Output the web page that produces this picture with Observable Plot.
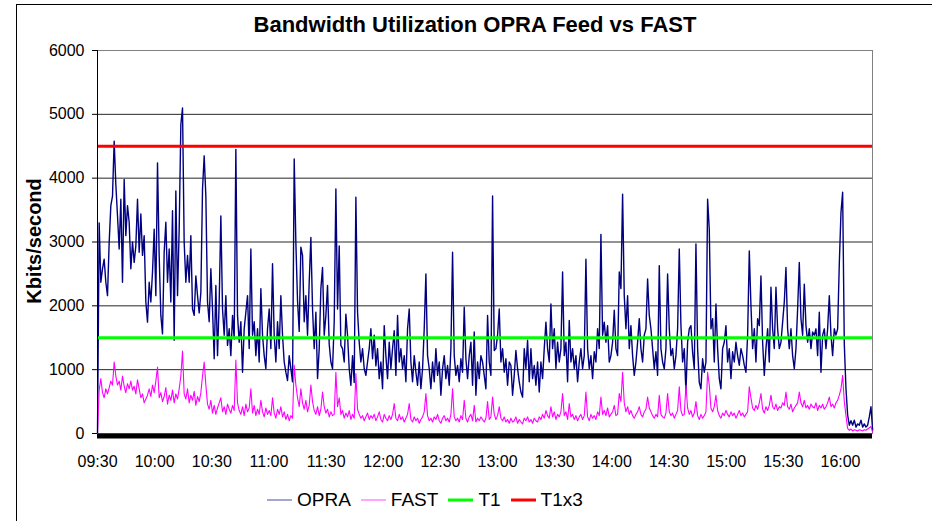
<!DOCTYPE html>
<html><head><meta charset="utf-8">
<script src="https://cdn.jsdelivr.net/npm/d3@7"></script>
<script src="https://cdn.jsdelivr.net/npm/@observablehq/plot@0.6"></script>
<style>
body{margin:0;background:#fff;font-family:"Liberation Sans",Arial,sans-serif;}
#wrap{position:relative;width:932px;height:521px;overflow:hidden;background:#fff;}
#frame{position:absolute;left:16px;top:4px;width:960px;height:560px;border-left:1px solid #000;border-top:1px solid #000;}
#chart{position:absolute;left:0;top:0;}
#title{position:absolute;left:0;width:950px;top:12px;text-align:center;font-weight:bold;font-size:22px;color:#000;}
#ylabel{position:absolute;left:34px;top:241px;transform:translate(-50%,-50%) rotate(-90deg);font-weight:bold;font-size:20px;white-space:nowrap;}
#legend{position:absolute;left:267px;top:489px;display:flex;align-items:center;font-size:19px;}
#legend .item{display:flex;align-items:center;margin-right:10px;}
#legend svg{margin-right:5px;}
</style>
</head><body>
<div id="wrap">
  <div id="frame"></div>
  <div id="chart"></div>
  <div id="title">Bandwidth Utilization OPRA Feed vs FAST</div>
  <div id="ylabel">Kbits/second</div>
  <div id="legend"></div>
</div>
<script>
// Sampling: first sample at 09:30, one sample every 0.875 minute
const startMinutes = 9 * 60 + 30;
const sampleMinutes = 0.875;

// OPRA feed, Kbits/second
const opraValues = [
  // 09:30 - 11:13
  0, 3300, 2370, 2580, 2730, 2370, 2160, 2990, 3570, 3720, 4580, 3900, 3410, 2890, 3670, 2370, 3980, 3100, 3570, 3310,
  2580, 3000, 2680, 2940, 3670, 2840, 3440, 2790, 3100, 2060, 1745, 2370, 2060, 2530, 3200, 2160, 4240, 2790, 1850, 1560,
  2840, 3310, 2370, 2890, 2060, 3490, 1460, 3800, 2160, 3200, 4840, 5100, 2990, 2370, 2790, 2370, 3100, 1950, 1850, 2470,
  2160, 1890, 2210, 3830, 4350, 3720, 2060, 1750, 2580, 1950, 1170, 2320, 1220, 2060, 3410, 1950, 1540, 2160, 1380, 1640,
  1220, 1850, 1480, 4450, 1850, 1430, 1750, 960, 1640, 1900, 2160, 1330, 2890, 1540, 1750, 1220, 1640, 1120, 2270, 1540,
  1220, 1015, 1640, 1950, 1330, 2660, 1540, 1120, 1750, 1330, 2160, 1540, 1120, 960, 830, 1220, 1015, 810, 4300,
  // 11:14 - 12:55
  2990, 2080, 1600, 2920, 2790, 1750, 2160, 1540, 2370, 3070, 1950, 1330, 1900, 860, 1330, 2270, 2600, 1540, 1850, 2320,
  1400, 1120, 1015, 1750, 3830, 1950, 2940, 1380, 1330, 1120, 1870, 1540, 1015, 755, 1220, 800, 3700, 1900, 1430, 1120,
  1330, 1015, 910, 1120, 1330, 1640, 1170, 1540, 1060, 1330, 860, 1120, 700, 1690, 1220, 860, 1430, 1015, 1330, 1610,
  910, 1850, 1120, 1330, 1015, 1220, 810, 1640, 1950, 1120, 810, 1220, 960, 755, 1120, 700, 1015, 1640, 2500, 1220,
  1015, 700, 1120, 810, 1330, 910, 1120, 600, 1015, 1220, 860, 1065, 755, 1330, 2840, 1220, 910, 1065, 810, 1170,
  960, 1980, 1170, 860, 1220, 1430, 755, 1590, 600, 1120, 860, 1220, 1120, 910, 700, 1850, 1120,
  // 12:56 - 14:38
  911, 3720, 1300, 1330, 1540, 1950, 1120, 1330, 960, 1170, 755, 1120, 1065, 600, 910, 1300, 1015, 810, 650, 570,
  1330, 1015, 1460, 810, 1330, 860, 1065, 755, 1120, 650, 1120, 860, 1330, 1745, 1330, 1120, 2030, 1330, 1640, 1020,
  1430, 1120, 1330, 2530, 1220, 1430, 810, 1770, 1120, 1330, 1015, 1220, 810, 1120, 1330, 1015, 1220, 2730, 1330, 1015,
  1220, 860, 1280, 1120, 1640, 1330, 3120, 1540, 1745, 1430, 1690, 1120, 1220, 1430, 1930, 1330, 1220, 2530, 2270, 3750,
  2160, 1640, 2160, 1330, 1690, 1220, 910, 1120, 1430, 1800, 1330, 1120, 1540, 1640, 2420, 1850, 1640, 1330, 1015, 1280,
  910, 2630, 1330, 1120, 1015, 1330, 2500, 1640, 1220, 1330, 1015, 1220, 1640, 2890, 1690, 1120, 1330,
  // 14:39 - 16:17
  650, 1430, 1640, 1690, 1270, 1015, 2970, 1330, 800, 700, 1170, 960, 1120, 3670, 3200, 1640, 1800, 1120, 2030, 1330,
  860, 700, 1330, 1430, 1690, 1120, 1330, 860, 1280, 1120, 1430, 1220, 1070, 1330, 1220, 1070, 960, 1540, 2860, 2000,
  1330, 1640, 1120, 1800, 1690, 2470, 1430, 910, 1330, 1640, 1120, 2290, 1640, 1330, 2290, 1640, 1330, 1430, 1745, 2060,
  2600, 1640, 1330, 1640, 1220, 1015, 1330, 1950, 2680, 1800, 1540, 2340, 1690, 1430, 1640, 1330, 1590, 1540, 1640, 1220,
  1900, 960, 1540, 1640, 1330, 1640, 2160, 1540, 1220, 1640, 1540, 1640, 2660, 3460, 3780, 1400, 700, 290, 130, 200,
  130, 210, 100, 150, 130, 210, 100, 150, 100, 130, 260, 420, 50
];

// FAST feed, Kbits/second
const fastValues = [
  // 09:30 - 11:13
  0, 680, 860, 640, 560, 700, 620, 720, 820, 760, 1120, 900, 760, 820, 680, 900, 740, 640, 780, 700,
  820, 680, 740, 620, 840, 700, 560, 620, 480, 540, 600, 700, 580, 760, 640, 820, 1040, 560, 640, 500,
  580, 720, 460, 600, 520, 680, 480, 620, 540, 700, 900, 1290, 620, 540, 700, 480, 600, 520, 660, 440,
  580, 500, 640, 900, 1120, 760, 460, 380, 520, 320, 440, 300, 400, 480, 560, 340, 420, 300, 460, 380,
  320, 440, 360, 1150, 480, 360, 300, 420, 280, 460, 340, 400, 700, 320, 440, 280, 380, 300, 520, 340,
  260, 400, 300, 360, 280, 560, 320, 240, 380, 300, 420, 260, 340, 220, 300, 200, 280, 240, 1070,
  // 11:14 - 12:55
  760, 560, 420, 700, 480, 380, 520, 340, 440, 760, 500, 360, 300, 420, 280, 380, 650, 420, 320, 380,
  260, 340, 280, 300, 960, 420, 560, 300, 360, 240, 320, 260, 360, 220, 300, 240, 940, 380, 300, 240,
  280, 200, 260, 320, 220, 280, 240, 300, 200, 260, 340, 220, 180, 300, 240, 200, 280, 220, 300, 470,
  240, 200, 300, 220, 260, 180, 240, 300, 470, 220, 180, 260, 200, 240, 160, 220, 260, 340, 625, 280,
  200, 240, 180, 260, 220, 300, 200, 160, 240, 280, 200, 240, 180, 300, 700, 260, 200, 240, 180, 280,
  220, 520, 240, 180, 260, 300, 200, 440, 180, 240, 200, 260, 220, 180, 240, 500, 220,
  // 12:56 - 14:38
  260, 570, 300, 220, 280, 420, 240, 200, 260, 180, 220, 160, 240, 180, 200, 260, 160, 220, 180, 150,
  240, 200, 260, 180, 220, 160, 240, 200, 180, 260, 220, 300, 240, 360, 280, 240, 420, 260, 340, 220,
  300, 260, 340, 625, 280, 340, 220, 470, 260, 300, 220, 280, 200, 260, 300, 220, 280, 650, 260, 200,
  300, 240, 280, 220, 340, 280, 570, 300, 360, 280, 400, 260, 300, 340, 440, 280, 300, 625, 500, 960,
  480, 340, 420, 300, 360, 280, 240, 300, 340, 420, 300, 260, 340, 380, 570, 400, 340, 280, 240, 300,
  260, 600, 300, 260, 240, 320, 625, 340, 280, 320, 240, 300, 360, 730, 360, 280, 300,
  // 14:39 - 16:17
  755, 400, 300, 360, 260, 320, 500, 280, 220, 300, 240, 280, 340, 960, 760, 400, 340, 420, 600, 360,
  280, 240, 320, 280, 360, 300, 260, 340, 280, 320, 240, 300, 360, 280, 320, 260, 300, 340, 730, 560,
  400, 360, 440, 380, 480, 625, 380, 320, 420, 360, 440, 600, 420, 380, 460, 360, 420, 400, 480, 440,
  650, 420, 380, 460, 340, 400, 440, 480, 650, 480, 420, 520, 400, 440, 380, 460, 420, 400, 480, 360,
  440, 400, 460, 380, 420, 480, 570, 420, 460, 400, 480, 520, 600, 700, 910, 500, 280, 80, 50, 70,
  40, 60, 50, 40, 60, 50, 40, 60, 50, 70, 90, 110, 20
];

// Reference lines
const thresholdNames = ["T1", "T1x3"];
const thresholdValues = [1500, 4500];

// Axis ticks
const yTicks = [0, 1000, 2000, 3000, 4000, 5000, 6000];
const xTickLabels = ["09:30","10:00","10:30","11:00","11:30","12:00","12:30","13:00","13:30","14:00","14:30","15:00","15:30","16:00"];

const toMin = s => { const [h, m] = s.split(":").map(Number); return h * 60 + m - startMinutes; };
const rows = opraValues.map((v, i) => ({t: i * sampleMinutes, opra: v, fast: fastValues[i]}));
const xTicks = xTickLabels.map(toMin);
const fmt = m => { const tot = startMinutes + Math.round(m); return String(Math.floor(tot / 60)).padStart(2, "0") + ":" + String(tot % 60).padStart(2, "0"); };

const colors = {OPRA: "#000080", FAST: "#ff00ff", T1: "#00ff00", T1x3: "#ff0000"};

const chart = Plot.plot({
  width: 932, height: 521,
  marginTop: 50, marginLeft: 97, marginRight: 60, marginBottom: 88,
  x: {domain: [0, 406.8]},
  y: {domain: [0, 6000]},
  style: {fontFamily: "'Liberation Sans', Arial, sans-serif", fontSize: "16px", background: "transparent", color: "#000"},
  marks: [
    Plot.gridY(yTicks.filter(d => d > 0 && d < 6000), {stroke: "#000", strokeOpacity: 0.85}),
    Plot.frame({stroke: "#808080"}),
    Plot.line(rows, {x: "t", y: "opra", stroke: colors.OPRA, strokeWidth: 1.4}),
    Plot.line(rows, {x: "t", y: "fast", stroke: colors.FAST, strokeWidth: 1.1}),
    Plot.ruleY([thresholdValues[0]], {stroke: colors.T1, strokeWidth: 3}),
    Plot.ruleY([thresholdValues[1]], {stroke: colors.T1x3, strokeWidth: 3}),
    Plot.ruleX([0], {stroke: "#000"}),
    Plot.ruleY([0], {stroke: "#000", strokeWidth: 5, dy: 2.5}),
    Plot.axisY({ticks: yTicks, tickFormat: d => String(d), tickSize: 5, tickPadding: 8, label: null}),
    Plot.axisX({ticks: xTicks, tickFormat: fmt, tickSize: 0, tickPadding: 22, label: null})
  ]
});
document.getElementById("chart").appendChild(chart);

// Legend
const legendItems = [
  {name: "OPRA", color: colors.OPRA, w: 1},
  {name: "FAST", color: colors.FAST, w: 1},
  {name: thresholdNames[0], color: colors.T1, w: 3},
  {name: thresholdNames[1], color: colors.T1x3, w: 3}
];
const leg = document.getElementById("legend");
for (const it of legendItems) {
  const d = document.createElement("div");
  d.className = "item";
  d.innerHTML = `<svg width="25" height="10"><line x1="0" x2="25" y1="5" y2="5" stroke="${it.color}" stroke-width="${it.w}" stroke-opacity="${it.w === 1 ? 0.7 : 1}"/></svg><span>${it.name}</span>`;
  leg.appendChild(d);
}
</script>
</body></html>
